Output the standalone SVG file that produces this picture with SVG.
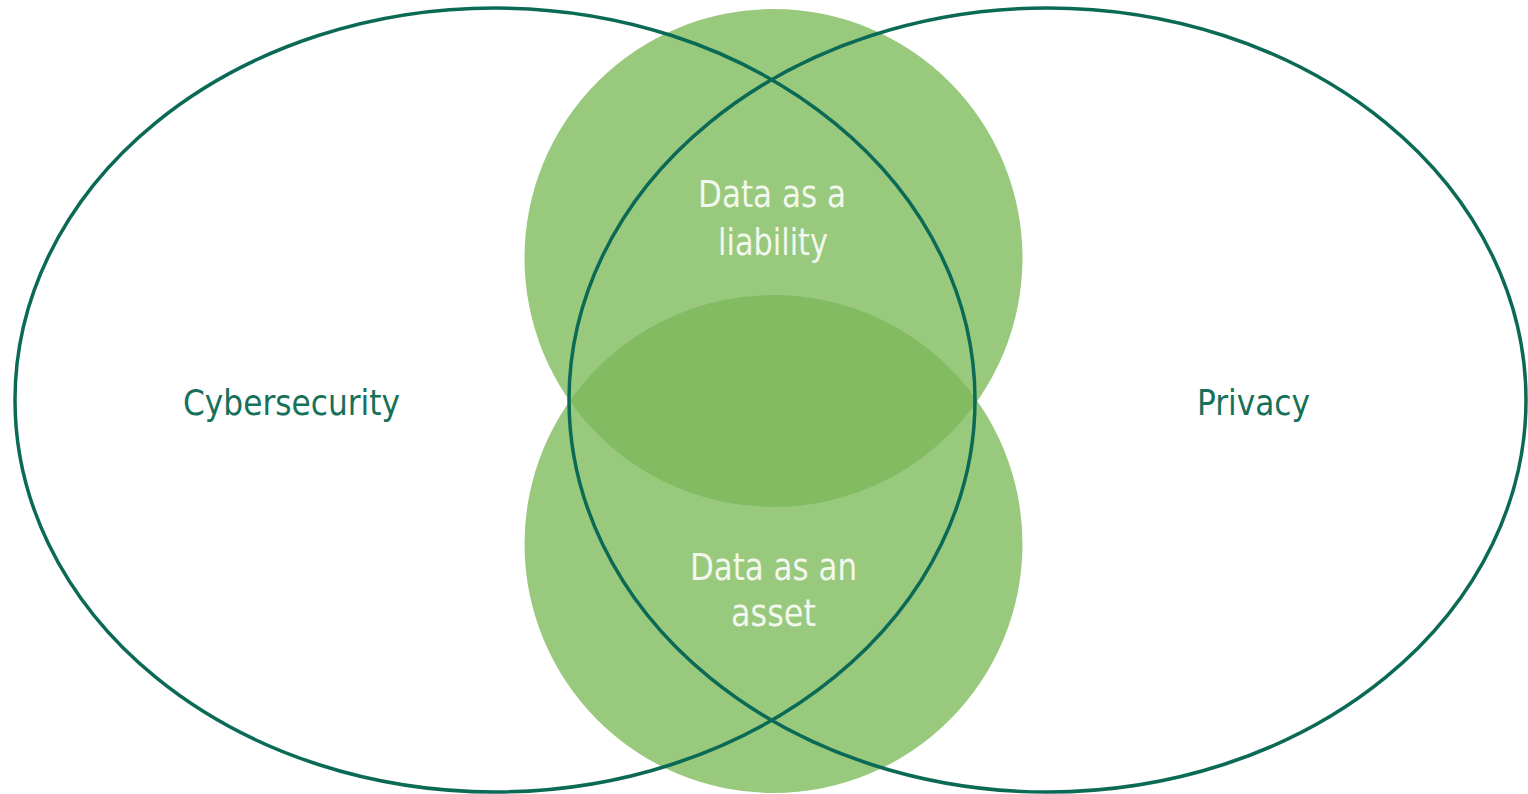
<svg xmlns="http://www.w3.org/2000/svg" width="1528" height="794" viewBox="0 0 1528 794">
<style>
.circ{fill:#98c97d}
.lens{fill:#83bb62}
.ell{fill:none;stroke:#0b6a55;stroke-width:3.5}
.side{font-family:"DejaVu Sans Condensed","Liberation Sans Narrow","Liberation Sans",sans-serif;font-size:35px;fill:#17705a;text-anchor:middle}
.mid{font-family:"DejaVu Sans Condensed","Liberation Sans Narrow","Liberation Sans",sans-serif;font-size:38px;fill:#f3f8ee;text-anchor:middle}
</style>
<defs>
<clipPath id="lowerClip"><circle cx="773.5" cy="544" r="249"/></clipPath>
</defs>
<rect width="1528" height="794" fill="#ffffff"/>
<g id="upper-circle"><circle class="circ" cx="773.5" cy="258" r="249"/></g>
<g id="lower-circle"><circle class="circ" cx="773.5" cy="544" r="249"/></g>
<g id="overlap"><circle class="lens" cx="773.5" cy="258" r="249" clip-path="url(#lowerClip)"/></g>
<g id="connectors">
<ellipse id="cyber-ellipse" class="ell" cx="495" cy="400" rx="480" ry="392"/>
<ellipse id="privacy-ellipse" class="ell" cx="1047.5" cy="400" rx="478.5" ry="392"/>
</g>
<g id="cybersecurity"><text class="side" x="291.5" y="415" textLength="217" lengthAdjust="spacingAndGlyphs">Cybersecurity</text></g>
<g id="privacy"><text class="side" x="1253.5" y="415" textLength="113" lengthAdjust="spacingAndGlyphs">Privacy</text></g>
<g id="liability"><text class="mid" x="772" y="207" textLength="148" lengthAdjust="spacingAndGlyphs">Data as a</text><text class="mid" x="773" y="255" textLength="110" lengthAdjust="spacingAndGlyphs">liability</text></g>
<g id="asset"><text class="mid" x="773.5" y="580" textLength="167" lengthAdjust="spacingAndGlyphs">Data as an</text><text class="mid" x="773.5" y="626" textLength="85" lengthAdjust="spacingAndGlyphs">asset</text></g>
</svg>
